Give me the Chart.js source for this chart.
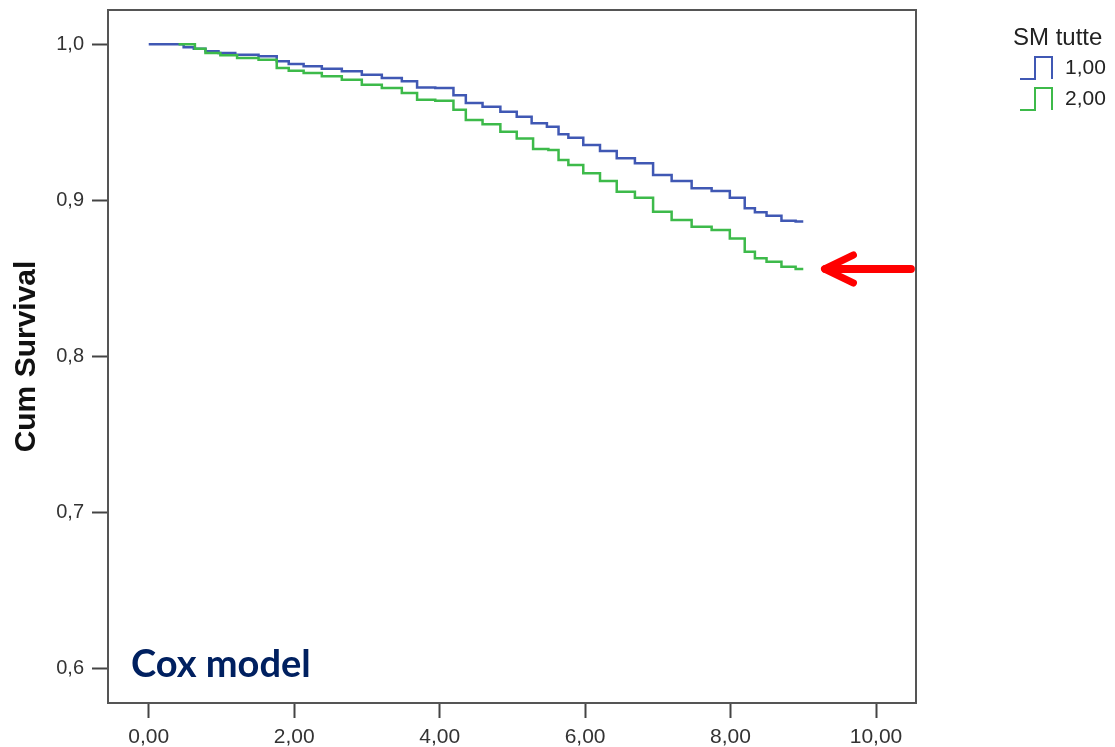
<!DOCTYPE html>
<html>
<head>
<meta charset="utf-8">
<title>Cum Survival - Cox model</title>
<script src="https://cdn.jsdelivr.net/npm/chart.js@4.4.1/dist/chart.umd.min.js"></script>
<style>
    html, body { margin: 0; padding: 0; background: #fff; }
    #wrap { width: 1115px; height: 747px; }
</style>
</head>
<body>
<div id="wrap"><canvas id="survChart" width="1115" height="747"></canvas></div>
<script>
// Survival curves per group (time in years, cumulative survival)
const seriesNames = ['1,00', '2,00'];
const legendTitle = 'SM tutte';

const blueTimes = [0.00, 0.41, 0.55, 0.69, 0.87, 1.05, 1.33, 1.69, 1.83, 2.02, 2.24, 2.52, 2.79, 3.07,
    3.34, 3.62, 3.76, 4.12, 4.26, 4.46, 4.72, 4.95, 5.17, 5.36, 5.59, 5.68, 5.86, 6.09, 6.32,
    6.55, 6.82, 7.05, 7.33, 7.60, 7.88, 8.10, 8.29, 8.38, 8.61, 8.79, 9.00];
const blueSurv = [1.000, 1.000, 0.9981, 0.9972, 0.9955, 0.9944, 0.9933, 0.9923, 0.9891, 0.9874, 0.9859, 0.9844, 0.9827, 0.9805,
    0.9784, 0.9763, 0.9724, 0.9720, 0.9673, 0.9624, 0.9600, 0.9568, 0.9536, 0.9494, 0.9472, 0.9423, 0.9401, 0.9354, 0.9316,
    0.9269, 0.9237, 0.9162, 0.9124, 0.9077, 0.9060, 0.9017, 0.8949, 0.8923, 0.8901, 0.8869, 0.8865];

const greenTimes = [0.41, 0.58, 0.69, 0.87, 1.10, 1.33, 1.69, 1.83, 2.02, 2.24, 2.52, 2.79, 3.07,
    3.34, 3.62, 3.76, 4.12, 4.26, 4.46, 4.72, 4.95, 5.17, 5.40, 5.59, 5.68, 5.86, 6.09, 6.32,
    6.55, 6.82, 7.05, 7.33, 7.60, 7.88, 8.10, 8.29, 8.38, 8.61, 8.79, 9.00];
const greenSurv = [1.000, 1.000, 0.9972, 0.9944, 0.9930, 0.9912, 0.9901, 0.9848, 0.9831, 0.9816, 0.9795, 0.9773, 0.9741,
    0.9720, 0.9688, 0.9645, 0.9638, 0.9581, 0.9515, 0.9487, 0.9440, 0.9397, 0.9329, 0.9322, 0.9258, 0.9226, 0.9173, 0.9124,
    0.9055, 0.9017, 0.8927, 0.8874, 0.8831, 0.8810, 0.8756, 0.8671, 0.8628, 0.8606, 0.8574, 0.8560];

const xTickValues = [0, 2, 4, 6, 8, 10];
const xTickLabels = ['0,00', '2,00', '4,00', '6,00', '8,00', '10,00'];
const yTickValues = [0.6, 0.7, 0.8, 0.9, 1.0];
const yTickLabels = ['0,6', '0,7', '0,8', '0,9', '1,0'];

// arrow pointing at the end of the second curve (time from -> time to)
const arrowFrom = 10.48;
const arrowTo = 9.25;

const BLUE = '#4058b4';
const GREEN = '#3dba4a';
const AXIS = '#555555';
const FONT = "'Liberation Sans', Arial, sans-serif";

function toPoints(times, values) {
    return times.map((t, i) => ({ x: t, y: values[i] }));
}

// frame around the plot area (top + right sides)
const framePlugin = {
    id: 'frame',
    afterDraw(chart) {
        const { ctx, chartArea: a } = chart;
        ctx.save();
        ctx.strokeStyle = AXIS;
        ctx.lineWidth = 2;
        ctx.beginPath();
        ctx.moveTo(a.left, a.top);
        ctx.lineTo(a.right, a.top);
        ctx.lineTo(a.right, a.bottom);
        ctx.stroke();
        ctx.restore();
    }
};

// "Cox model" caption, red arrow and the step legend on the right
const extrasPlugin = {
    id: 'extras',
    afterDraw(chart) {
        const { ctx, chartArea: a } = chart;
        const xs = chart.scales.x, ys = chart.scales.y;
        ctx.save();

        // caption
        ctx.fillStyle = '#002060';
        ctx.font = "bold 38px Lato, 'Open Sans', sans-serif";
        ctx.textAlign = 'left';
        ctx.textBaseline = 'alphabetic';
        ctx.fillText('Cox model', a.left + 23, a.bottom - 26);

        // arrow
        const yEnd = ys.getPixelForValue(greenSurv[greenSurv.length - 1]);
        const x0 = xs.getPixelForValue(arrowFrom);
        const x1 = xs.getPixelForValue(arrowTo);
        ctx.strokeStyle = '#ff0000';
        ctx.lineWidth = 8;
        ctx.lineCap = 'round';
        ctx.lineJoin = 'round';
        ctx.beginPath();
        ctx.moveTo(x0, yEnd);
        ctx.lineTo(x1 + 4, yEnd);
        ctx.stroke();
        ctx.lineWidth = 7;
        ctx.beginPath();
        ctx.moveTo(x1 + 32, yEnd - 14);
        ctx.lineTo(x1 + 3, yEnd);
        ctx.lineTo(x1 + 32, yEnd + 14);
        ctx.stroke();

        // legend
        const lx = a.right + 97;
        ctx.lineCap = 'butt';
        ctx.lineJoin = 'miter';
        ctx.fillStyle = '#222';
        ctx.font = '24px ' + FONT;
        ctx.textBaseline = 'middle';
        ctx.fillText(legendTitle, lx, 38);
        ctx.font = '21px ' + FONT;
        chart.data.datasets.forEach((ds, i) => {
            const cy = 68 + i * 31;
            ctx.strokeStyle = ds.borderColor;
            ctx.lineWidth = 2;
            ctx.beginPath();
            ctx.moveTo(lx + 7, cy + 11);
            ctx.lineTo(lx + 22, cy + 11);
            ctx.lineTo(lx + 22, cy - 11);
            ctx.lineTo(lx + 39, cy - 11);
            ctx.lineTo(lx + 39, cy + 11);
            ctx.stroke();
            ctx.fillStyle = '#222';
            ctx.fillText(seriesNames[i], lx + 52, cy);
        });
        ctx.restore();
    }
};

const ctx = document.getElementById('survChart').getContext('2d');
new Chart(ctx, {
    type: 'line',
    data: {
        datasets: [{
            label: seriesNames[0],
            data: toPoints(blueTimes, blueSurv),
            borderColor: BLUE,
            borderWidth: 2.5,
            pointRadius: 0,
            stepped: 'middle',
            fill: false,
            order: 1
        }, {
            label: seriesNames[1],
            data: toPoints(greenTimes, greenSurv),
            borderColor: GREEN,
            borderWidth: 2.5,
            pointRadius: 0,
            stepped: 'middle',
            fill: false,
            order: 0
        }]
    },
    options: {
        responsive: false,
        animation: false,
        layout: { padding: { left: 0, top: 10, right: 199, bottom: 0 } },
        plugins: {
            legend: { display: false },
            tooltip: { enabled: false }
        },
        scales: {
            x: {
                type: 'linear',
                min: -0.56,
                max: 10.55,
                afterFit: (s) => {
                    s.height = 44;
                    s.paddingLeft = 0;
                    s.paddingRight = 0;
                },
                afterBuildTicks: (s) => { s.ticks = xTickValues.map(v => ({ value: v })); },
                border: { display: true, color: AXIS, width: 2 },
                grid: { drawOnChartArea: false, drawTicks: true, tickLength: 15, tickWidth: 2, tickColor: '#444' },
                ticks: {
                    padding: 7,
                    color: '#333',
                    font: { family: FONT, size: 21 },
                    callback: (v) => xTickLabels[xTickValues.indexOf(v)]
                }
            },
            y: {
                type: 'linear',
                min: 0.5778,
                max: 1.022,
                afterFit: (s) => {
                    s.width = 108;
                    s.paddingTop = 0;
                    s.paddingBottom = 0;
                },
                afterBuildTicks: (s) => { s.ticks = yTickValues.map(v => ({ value: v })); },
                border: { display: true, color: AXIS, width: 2 },
                grid: { drawOnChartArea: false, drawTicks: true, tickLength: 16, tickWidth: 2, tickColor: '#444' },
                ticks: {
                    padding: 8,
                    color: '#333',
                    font: { family: FONT, size: 20 },
                    callback: (v) => yTickLabels[yTickValues.findIndex(t => Math.abs(t - v) < 1e-9)]
                },
                title: {
                    display: true,
                    text: 'Cum Survival',
                    color: '#111',
                    font: { family: FONT, size: 30, weight: 'bold' },
                    padding: { top: 9, bottom: 0 }
                }
            }
        }
    },
    plugins: [framePlugin, extrasPlugin]
});
</script>
</body>
</html>
